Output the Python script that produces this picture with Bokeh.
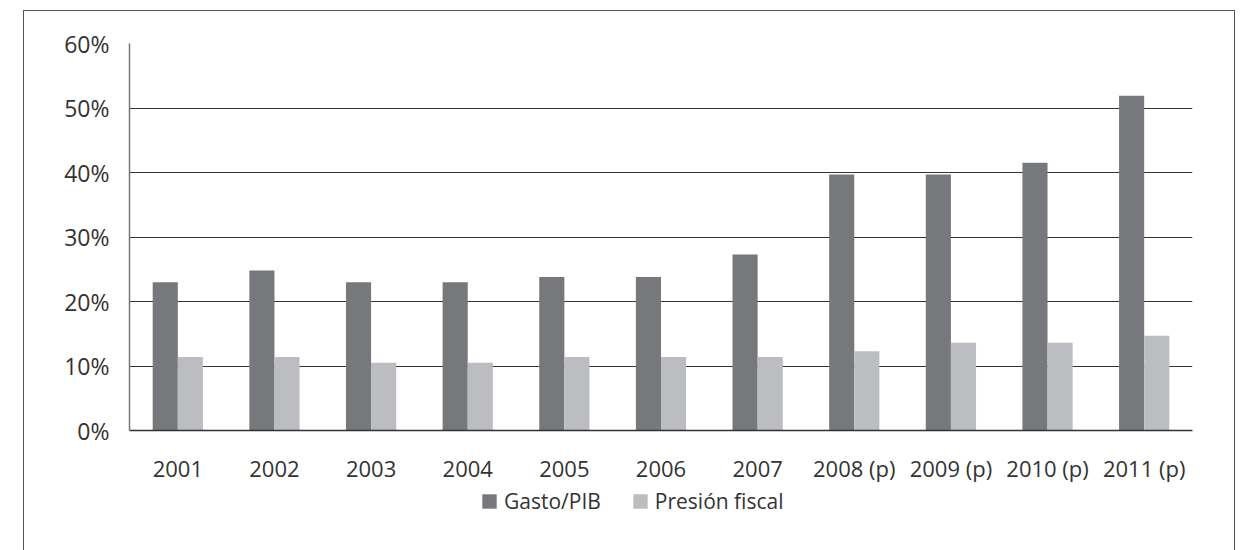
from bokeh.plotting import figure
from bokeh.models import (Range1d, FixedTicker, PrintfTickFormatter, Legend, LegendItem,
                          ColumnDataSource, FactorRange)
from bokeh.layouts import column
from bokeh.transform import dodge
from bokeh.embed import file_html
from bokeh.resources import INLINE

years = ["2001", "2002", "2003", "2004", "2005", "2006", "2007",
         "2008 (p)", "2009 (p)", "2010 (p)", "2011 (p)"]
gasto_pib = [23.0, 24.8, 23.0, 23.0, 23.8, 23.8, 27.3, 39.7, 39.7, 41.5, 51.9]
presion_fiscal = [11.4, 11.4, 10.5, 10.5, 11.4, 11.4, 11.4, 12.3, 13.6, 13.6, 14.7]
y_ticks = [0, 10, 20, 30, 40, 50, 60]
series_names = ["Gasto/PIB", "Presión fiscal"]

DARK = "#77787c"
LIGHT = "#bcbdc0"
TXT = "#333333"
FONT = "Open Sans"
BORDER = "1.5px solid #555"

src = ColumnDataSource(dict(x=years, g=gasto_pib, p=presion_fiscal))

p = figure(x_range=FactorRange(*years), y_range=Range1d(0, 60),
           width=1210, height=474, output_backend="svg", toolbar_location=None,
           min_border_left=105, min_border_right=42, min_border_top=32,
           min_border_bottom=53)
p.outline_line_color = None
p.x_range.range_padding = 0
p.x_range.factor_padding = 0

p.vbar(x=dodge("x", -0.13, range=p.x_range), top="g", width=0.26, source=src,
       fill_color=DARK, line_color=None)
p.vbar(x=dodge("x", 0.13, range=p.x_range), top="p", width=0.26, source=src,
       fill_color=LIGHT, line_color=None)

p.yaxis.ticker = FixedTicker(ticks=y_ticks)
p.yaxis.formatter = PrintfTickFormatter(format="%d%%")
p.yaxis.major_tick_line_color = None
p.yaxis.minor_tick_line_color = None
p.yaxis.axis_line_color = "#777777"
p.yaxis.axis_line_width = 1.5
p.yaxis.major_label_standoff = 14
p.yaxis.major_label_text_font = FONT
p.yaxis.major_label_text_font_size = "23px"
p.yaxis.major_label_text_color = TXT

p.xaxis.major_tick_line_color = None
p.xaxis.axis_line_color = "#333333"
p.xaxis.axis_line_width = 1.5
p.xaxis.major_label_standoff = 16
p.xaxis.major_label_text_font = FONT
p.xaxis.major_label_text_font_size = "22px"
p.xaxis.major_label_text_color = TXT

p.xgrid.grid_line_color = None
p.ygrid.ticker = FixedTicker(ticks=y_ticks)
p.ygrid.grid_line_color = "#333333"
p.ygrid.grid_line_width = 1.2

# legend strip (zero-height swatch renderers, nothing visible is drawn)
p2 = figure(width=1210, height=65, output_backend="svg", toolbar_location=None,
            x_range=Range1d(0, 1), y_range=Range1d(0, 1),
            x_axis_type=None, y_axis_type=None,
            min_border_left=105, min_border_right=42, min_border_top=0,
            min_border_bottom=0)
p2.outline_line_color = None
p2.grid.grid_line_color = None
lr1 = p2.vbar(x=[0.5], top=[0], width=0.1, fill_color=DARK, line_color=None)
lr2 = p2.vbar(x=[0.5], top=[0], width=0.1, fill_color=LIGHT, line_color=None)

legend = Legend(items=[LegendItem(label=series_names[0], renderers=[lr1]),
                       LegendItem(label=series_names[1], renderers=[lr2])],
                orientation="horizontal", location=(351, 35),
                glyph_width=18, glyph_height=18, label_standoff=6, spacing=30,
                padding=0, margin=0, border_line_color=None,
                background_fill_alpha=0,
                label_text_font=FONT, label_text_font_size="21px",
                label_text_color=TXT)
p2.add_layout(legend, "center")

layout = column(p, p2, spacing=0, margin=(10, 0, 0, 23),
                styles={"border-top": BORDER, "border-left": BORDER,
                        "border-right": BORDER})
open("out.html", "w").write(file_html(layout, INLINE))
